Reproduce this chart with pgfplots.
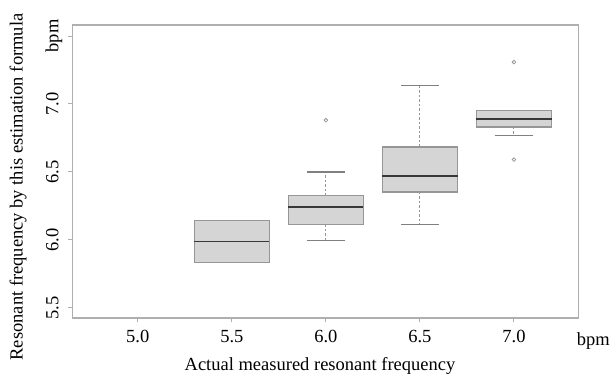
\documentclass[border=0pt]{standalone}
\usepackage{pgfplots}
\pgfplotsset{compat=1.18}
\usepgfplotslibrary{statistics}
\usetikzlibrary{calc}
\usepackage{fontspec}
\setmainfont{Liberation Serif}
\definecolor{axgray}{RGB}{175,175,175}
\definecolor{boxfill}{RGB}{213,213,213}
\definecolor{boxedge}{RGB}{150,150,150}
\definecolor{medcol}{RGB}{55,55,55}
\pgfplotsset{
  boxplot/draw direction=y,
  boxplot/every box/.style={draw=boxedge, fill=boxfill, line width=1.1bp},
  boxplot/every median/.style={draw=medcol, line width=1.8bp},
  boxplot/draw/lower whisker/.code={%
    \draw[boxedge, line width=1bp, dash pattern=on 2.5bp off 2bp]
      (boxplot box cs:\pgfplotsboxplotvalue{lower quartile},0.5) --
      (boxplot box cs:\pgfplotsboxplotvalue{lower whisker},0.5);
    \draw[boxedge!85!black, line width=1.1bp]
      (boxplot whisker cs:\pgfplotsboxplotvalue{lower whisker},0) --
      (boxplot whisker cs:\pgfplotsboxplotvalue{lower whisker},1);
  },
  boxplot/draw/upper whisker/.code={%
    \draw[boxedge, line width=1bp, dash pattern=on 2.5bp off 2bp]
      (boxplot box cs:\pgfplotsboxplotvalue{upper quartile},0.5) --
      (boxplot box cs:\pgfplotsboxplotvalue{upper whisker},0.5);
    \draw[boxedge!85!black, line width=1.1bp]
      (boxplot whisker cs:\pgfplotsboxplotvalue{upper whisker},0) --
      (boxplot whisker cs:\pgfplotsboxplotvalue{upper whisker},1);
  },
}
\begin{document}
\fontsize{18.5bp}{22bp}\selectfont
\begin{tikzpicture}
\begin{axis}[
  name=ax,
  scale only axis,
  width=506bp, height=293bp,
  xmin=4.652, xmax=7.342,
  ymin=5.426, ymax=7.581,
  axis line style={axgray, line width=1.1bp},
  xtick={5,5.5,6,6.5,7},
  xticklabels={5.0,5.5,6.0,6.5,7.0},
  ytick={5.5,6,6.5,7,7.5},
  yticklabels={5.5,6.0,6.5,7.0,bpm},
  tick align=outside,
  major tick length=4bp,
  tick style={axgray, line width=1bp},
  xtick pos=bottom, ytick pos=left,
  /pgf/number format/assume math mode=true,
  ticklabel style={font=\fontsize{18.5bp}{22bp}\selectfont},
  xticklabel style={anchor=base, yshift=-20bp},
  yticklabel style={rotate=90, anchor=base, yshift=10bp},
  boxplot/box extend=0.4,
  boxplot/whisker extend=0.2,
]
\addplot[boxplot prepared={draw position=5.5,
  lower whisker=5.832, lower quartile=5.832, median=5.989,
  upper quartile=6.144, upper whisker=6.144}] coordinates {};
\addplot[boxplot prepared={draw position=6.0,
  lower whisker=5.996, lower quartile=6.114, median=6.244,
  upper quartile=6.326, upper whisker=6.500},
  mark=o, mark size=1.8bp, mark options={boxedge, line width=0.8bp, solid}]
  table[row sep=\\, y index=0] {6.881\\};
\addplot[boxplot prepared={draw position=6.5,
  lower whisker=6.115, lower quartile=6.353, median=6.471,
  upper quartile=6.684, upper whisker=7.133}] coordinates {};
\addplot[boxplot prepared={draw position=7.0,
  lower whisker=6.770, lower quartile=6.831, median=6.891,
  upper quartile=6.952, upper whisker=6.952},
  mark=o, mark size=1.8bp, mark options={boxedge, line width=0.8bp, solid}]
  table[row sep=\\, y index=0] {7.308\\ 6.591\\};
\end{axis}
\node[anchor=base] at ($(ax.south west)+(247.7bp,-52.3bp)$) {Actual measured resonant frequency};
\node[anchor=base] at ($(ax.south east)+(15bp,-27.3bp)$) {bpm};
\node[rotate=90, anchor=base] at ($(ax.south west)+(-49.6bp,131bp)$) {Resonant frequency by this estimation formula};
\pgfresetboundingbox
\path ($(ax.south west)+(-72.3bp,-57.3bp)$) rectangle ($(ax.north east)+(32.7bp,25bp)$);
\end{tikzpicture}
\end{document}
